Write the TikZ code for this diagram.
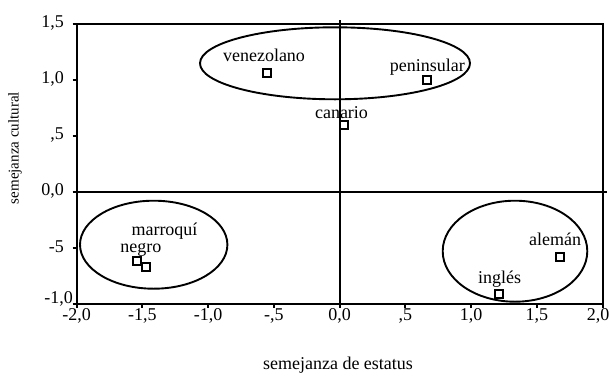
\documentclass[tikz,border=0pt]{standalone}
\usepackage{fontspec}
\setmainfont{Liberation Serif}
\begin{document}
\begin{tikzpicture}[x=1pt,y=-1pt,
  axisline/.style={line width=2.1pt},
  ring/.style={line width=1.9pt},
  pt/.style={draw, line width=2pt, minimum size=8pt, inner sep=0pt, fill=white},
  lab/.style={font=\fontsize{18}{20}\selectfont, inner sep=0pt, anchor=base},
  ticklab/.style={font=\fontsize{18}{20}\selectfont, inner sep=0pt},
  axlab/.style={font=\fontsize{15}{17}\selectfont, inner sep=0pt}]
\useasboundingbox (0,0) rectangle (610,375);
% frame and zero lines
\draw[axisline] (76.7,24.3) rectangle (602.7,304);
\draw[axisline] (76.7,192.2) -- (607,192.2);
\draw[axisline] (339.7,20) -- (339.7,308);
% ticks
\foreach \y in {24.3,80.2,136.2,192.2,248.1,304} \draw[axisline] (72.5,\y) -- (76.7,\y);
\foreach \x in {76.7,142.4,208.2,273.9,405.4,471.2,536.9,602.7} \draw[axisline] (\x,304) -- (\x,308);
% y tick labels
\node[ticklab, anchor=east] (y15) at (64,23) {1,5};
\node[ticklab, anchor=east] (y10) at (64,79) {1,0};
\node[ticklab, anchor=east] (y05) at (64,135) {,5};
\node[ticklab, anchor=east] (y00) at (64,191) {0,0};
\node[ticklab, anchor=east] (ym05) at (64,247) {-5};
\node[ticklab, anchor=east] (ym10) at (73,299) {-1,0};
% x tick labels
\foreach \x/\t [count=\i] in {76.7/{-2,0},142.4/{-1,5},208.2/{-1,0},273.9/{-,5},339.7/{0,0},405.4/{,5},471.2/{1,0},536.9/{1,5}}
  \node[ticklab] (xt\i) at (\x,316) {\t};
\node[ticklab, anchor=east] (xt9) at (609.5,316) {2,0};
% axis titles
\node[ticklab] (xlab) at (338,365) {semejanza de estatus};
\node[axlab, rotate=90] (ylab) at (15,148) {semejanza cultural};
% ellipses
\draw[ring] (335,63.3) ellipse [x radius=135, y radius=36];
\draw[ring] (153.7,244.7) ellipse [x radius=73.7, y radius=44];
\draw[ring] (515,251.2) ellipse [x radius=72.3, y radius=50.5];
% points
\node[pt] (venezolano) at (266.7,72.7) {};
\node[pt] (peninsular) at (426.7,80.3) {};
\node[pt] (canario) at (344,124.7) {};
\node[pt] (marroqui) at (137.3,260.7) {};
\node[pt] (negro) at (146.3,267.3) {};
\node[pt] (aleman) at (560,256.7) {};
\node[pt] (ingles) at (498.7,294) {};
% labels
\node[lab] (lmarr) at (164.5,235) {marroquí};
\node[lab] (lnegr) at (140.8,252.5) {negro};
\node[lab] (lvene) at (264,61) {venezolano};
\node[lab] (lpeni) at (427.3,71) {peninsular};
\node[lab] (lcana) at (341.5,118) {canario};
\node[lab] (lalem) at (555,245.7) {alemán};
\node[lab] (lingl) at (499.7,283.3) {inglés};
\end{tikzpicture}
\end{document}
